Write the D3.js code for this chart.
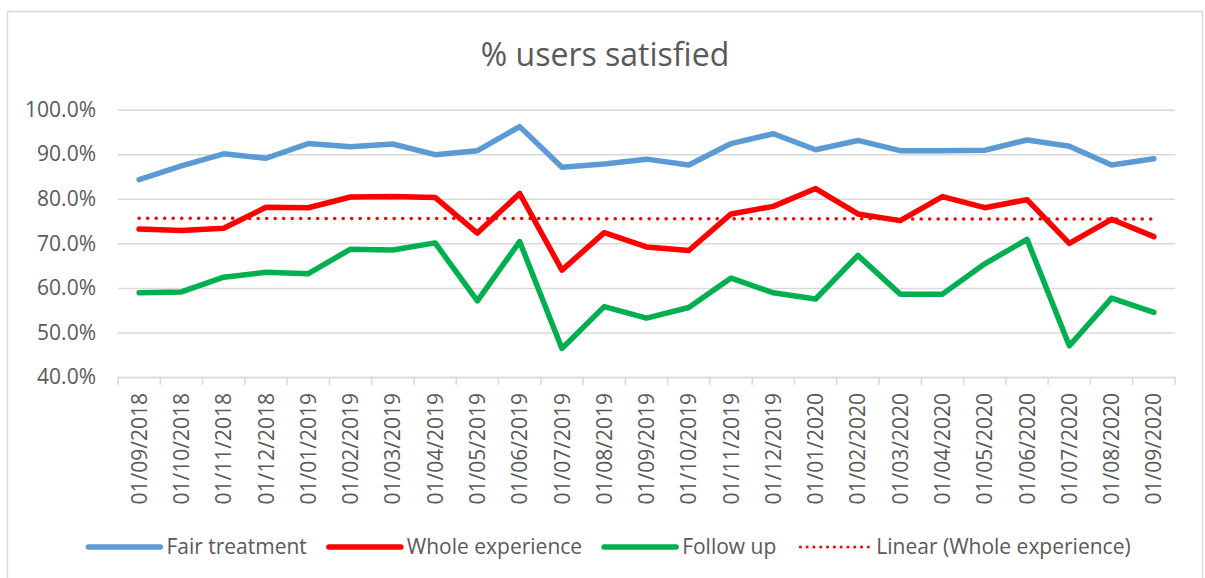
<!DOCTYPE html>
<html>
<head>
<meta charset="utf-8">
<script src="https://cdn.jsdelivr.net/npm/d3@7"></script>
<style>
  body { margin: 0; background: #fff; }
  svg { display: block; font-family: "Open Sans", sans-serif; }
</style>
</head>
<body>
<svg id="chart" width="1205" height="578"></svg>
<script>
const months = [
  "01/09/2018", "01/10/2018", "01/11/2018", "01/12/2018", "01/01/2019",
  "01/02/2019", "01/03/2019", "01/04/2019", "01/05/2019", "01/06/2019",
  "01/07/2019", "01/08/2019", "01/09/2019", "01/10/2019", "01/11/2019",
  "01/12/2019", "01/01/2020", "01/02/2020", "01/03/2020", "01/04/2020",
  "01/05/2020", "01/06/2020", "01/07/2020", "01/08/2020", "01/09/2020"
];
const fairTreatment = [84.3, 87.4, 90.1, 89.1, 92.4, 91.7, 92.3, 89.9, 90.8, 96.2,
  87.1, 87.8, 88.9, 87.6, 92.4, 94.6, 91.0, 93.1, 90.8, 90.8, 90.9, 93.2, 91.8, 87.6, 89.0];
const wholeExperience = [73.2, 72.9, 73.4, 78.1, 78.0, 80.4, 80.5, 80.3, 72.3, 81.2,
  64.0, 72.4, 69.2, 68.4, 76.6, 78.3, 82.3, 76.6, 75.1, 80.5, 78.0, 79.8, 70.0, 75.4, 71.5];
const followUp = [58.9, 59.1, 62.4, 63.5, 63.2, 68.7, 68.5, 70.1, 57.1, 70.4,
  46.4, 55.8, 53.2, 55.6, 62.2, 58.9, 57.5, 67.3, 58.6, 58.6, 65.4, 70.9, 47.0, 57.7, 54.5];
const yTicks = [40, 50, 60, 70, 80, 90, 100];

const C = { blue: "#5B9BD5", red: "#FF0000", green: "#00B050", grid: "#d9d9d9", text: "#595959" };

const svg = d3.select("#chart");

// outer chart border
svg.append("rect")
  .attr("x", 7.5).attr("y", 11.5).attr("width", 1195).attr("height", 580)
  .attr("fill", "none").attr("stroke", C.grid).attr("stroke-width", 1.5);

const plot = { left: 118, right: 1175, top: 109.7, bottom: 377 };

const x = d3.scaleBand().domain(months).range([plot.left, plot.right]);
const y = d3.scaleLinear().domain([40, 100]).range([plot.bottom, plot.top]);
const cx = d => x(d) + x.bandwidth() / 2;

// title
svg.append("text")
  .attr("x", 605).attr("y", 66)
  .attr("text-anchor", "middle")
  .attr("fill", C.text)
  .style("font-size", "32px")
  .text("% users satisfied");

// gridlines + y labels
const yAxis = d3.axisLeft(y).tickValues(yTicks)
  .tickSize(-(plot.right - plot.left))
  .tickPadding(22)
  .tickFormat(d => d3.format(".1f")(d) + "%");
svg.append("g")
  .attr("transform", `translate(${plot.left},0)`)
  .call(yAxis)
  .call(g => g.select(".domain").remove())
  .call(g => g.selectAll("line").attr("stroke", C.grid).attr("stroke-width", 1.5))
  .call(g => g.selectAll("text").attr("fill", C.text).style("font-size", "21px").style("font-family", "Open Sans"));

// x axis: labels at centres, ticks at band edges
const xAxis = d3.axisBottom(x).tickSize(0).tickPadding(0);
svg.append("g")
  .attr("transform", `translate(0,${plot.bottom})`)
  .call(xAxis)
  .call(g => g.select(".domain").attr("stroke", C.grid).attr("stroke-width", 1.5))
  .call(g => g.selectAll("text")
    .attr("transform", "rotate(-90)")
    .attr("x", -16).attr("y", 0).attr("dy", "0.36em")
    .attr("text-anchor", "end")
    .attr("fill", C.text)
    .style("font-size", "21px")
    .style("font-family", "Open Sans"));

svg.append("g").selectAll("line")
  .data(d3.range(months.length + 1))
  .join("line")
  .attr("x1", i => plot.left + i * x.step())
  .attr("x2", i => plot.left + i * x.step())
  .attr("y1", plot.bottom).attr("y2", plot.bottom + 8)
  .attr("stroke", C.grid).attr("stroke-width", 1.5);

// linear trend of whole experience
const idx = d3.range(wholeExperience.length);
const mx = d3.mean(idx), my = d3.mean(wholeExperience);
const slope = d3.sum(idx, i => (i - mx) * (wholeExperience[i] - my)) / d3.sum(idx, i => (i - mx) ** 2);
const trend = idx.map(i => my + slope * (i - mx));

const line = d3.line().x((d, i) => cx(months[i])).y(d => y(d));

svg.append("path")
  .datum(trend)
  .attr("d", line)
  .attr("fill", "none").attr("stroke", C.red)
  .attr("stroke-width", 3.5)
  .attr("stroke-linecap", "round")
  .attr("stroke-dasharray", "0.1 8.4");

const series = [
  { name: "Fair treatment", values: fairTreatment, color: C.blue },
  { name: "Whole experience", values: wholeExperience, color: C.red },
  { name: "Follow up", values: followUp, color: C.green }
];

svg.append("g").selectAll("path")
  .data(series)
  .join("path")
  .attr("d", s => line(s.values))
  .attr("fill", "none")
  .attr("stroke", s => s.color)
  .attr("stroke-width", 5.5)
  .attr("stroke-linejoin", "round")
  .attr("stroke-linecap", "round");

// legend
const legendItems = [
  { name: "Fair treatment", color: C.blue, dotted: false },
  { name: "Whole experience", color: C.red, dotted: false },
  { name: "Follow up", color: C.green, dotted: false },
  { name: "Linear (Whole experience)", color: C.red, dotted: true }
];
const legend = svg.append("g");
let lx = 0;
legendItems.forEach(item => {
  const g = legend.append("g").attr("transform", `translate(${lx},0)`);
  const ln = g.append("line")
    .attr("x1", 0).attr("x2", 72).attr("y1", 0).attr("y2", 0)
    .attr("stroke", item.color);
  if (item.dotted) {
    ln.attr("x1", 2).attr("x2", 70).attr("stroke-width", 3)
      .attr("stroke-linecap", "round").attr("stroke-dasharray", "0.1 6.7");
  } else {
    ln.attr("stroke-width", 5.5).attr("stroke-linecap", "round");
  }
  const t = g.append("text")
    .attr("x", 78).attr("y", 0).attr("dy", "0.35em")
    .attr("fill", C.text)
    .style("font-size", "21px")
    .text(item.name);
  lx += 78 + t.node().getComputedTextLength() + 22;
});
const legendWidth = lx - 22;
legend.attr("transform", `translate(${609.5 - legendWidth / 2},547)`);
</script>
</body>
</html>
